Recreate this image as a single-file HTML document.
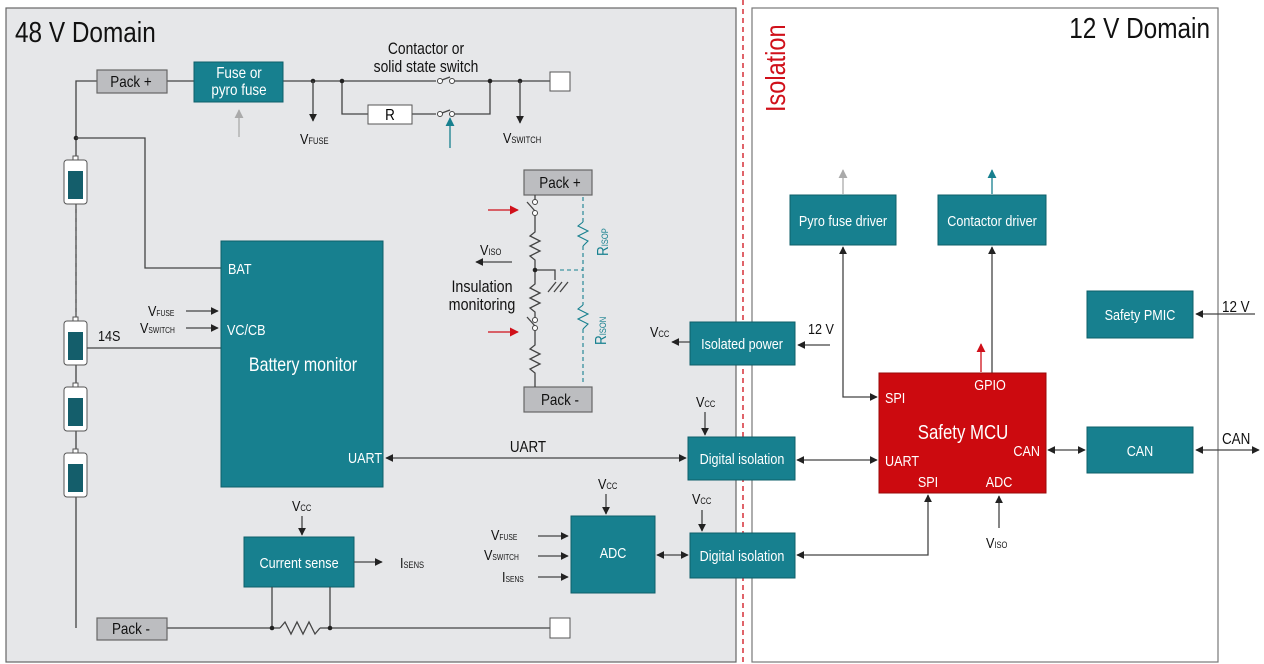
<!DOCTYPE html>
<html><head><meta charset="utf-8"><style>
body{margin:0;background:#fff}
svg{display:block;font-family:"Liberation Sans",sans-serif;font-size:15px}
text{transform-box:fill-box;transform:scaleX(.84);transform-origin:0 50%}
.t{fill:#fff;text-anchor:middle}
.k{fill:#111}
.t,.m{transform-origin:50% 50%}
.s{transform-origin:0 50%;text-anchor:start}
.r{transform-origin:100% 50%}
.w{stroke:#444;stroke-width:1.3;fill:none}
.tb{fill:#17808f;stroke:#0e5f6a;stroke-width:1}
.gb{fill:#bcbdc0;stroke:#666;stroke-width:1.2}
</style></head><body>
<svg width="1264" height="664" viewBox="0 0 1264 664">
<defs>
<marker id="a" viewBox="0 0 10 10" refX="9" refY="5" markerWidth="8" markerHeight="8" orient="auto-start-reverse" markerUnits="userSpaceOnUse"><path d="M0,0L10,5L0,10z" fill="#222"/></marker>
<marker id="ag" viewBox="0 0 10 10" refX="9" refY="5" markerWidth="9" markerHeight="9" orient="auto" markerUnits="userSpaceOnUse"><path d="M0,0L10,5L0,10z" fill="#aaa"/></marker>
<marker id="at" viewBox="0 0 10 10" refX="9" refY="5" markerWidth="9" markerHeight="9" orient="auto" markerUnits="userSpaceOnUse"><path d="M0,0L10,5L0,10z" fill="#17808f"/></marker>
<marker id="ar" viewBox="0 0 10 10" refX="9" refY="5" markerWidth="9" markerHeight="9" orient="auto" markerUnits="userSpaceOnUse"><path d="M0,0L10,5L0,10z" fill="#d0101a"/></marker>
</defs>
<rect x="6" y="8" width="730" height="654" fill="#e6e7e9" stroke="#666" stroke-width="1.2"/>
<rect x="752" y="8" width="466" height="654" fill="#fff" stroke="#777" stroke-width="1.2"/>
<line x1="743" y1="0" x2="743" y2="664" stroke="#d0101a" stroke-width="1.3" stroke-dasharray="5,4"/>
<g transform="translate(785,112) rotate(-90)"><text x="0" y="0" fill="#d0101a" font-size="28">Isolation</text></g>
<text x="15" y="42" font-size="29" fill="#111">48 V Domain</text>
<text x="1210" y="38" font-size="29" fill="#111" text-anchor="end" class="r">12 V Domain</text>

<polyline class="w" points="76,628 76,81 97,81"/>
<line class="w" x1="167" y1="81" x2="194" y2="81"/>
<line class="w" x1="283" y1="81" x2="436" y2="81"/>
<line class="w" x1="455" y1="81" x2="550" y2="81"/>
<circle cx="440" cy="81" r="2.5" fill="#fff" stroke="#444"/><circle cx="452" cy="81" r="2.5" fill="#fff" stroke="#444"/><line class="w" x1="442" y1="80" x2="450" y2="77"/>
<polyline class="w" points="342,81 342,114 368,114"/>
<line class="w" x1="412" y1="114" x2="436" y2="114"/>
<polyline class="w" points="455,114 490,114 490,81"/>
<circle cx="440" cy="114" r="2.5" fill="#fff" stroke="#444"/><circle cx="452" cy="114" r="2.5" fill="#fff" stroke="#444"/><line class="w" x1="442" y1="113" x2="450" y2="110"/>
<rect x="368" y="105" width="44" height="19" fill="#fff" stroke="#555"/><text x="390" y="120" font-size="16" text-anchor="middle" class="m">R</text>
<g fill="#222"><circle cx="313" cy="81" r="2.3"/><circle cx="342" cy="81" r="2.3"/><circle cx="490" cy="81" r="2.3"/><circle cx="520" cy="81" r="2.3"/><circle cx="76" cy="138" r="2.3"/></g>
<line class="w" x1="313" y1="81" x2="313" y2="121" marker-end="url(#a)"/>
<line class="w" x1="520" y1="81" x2="520" y2="123" marker-end="url(#a)"/>
<text x="300" y="144" class="k" font-size="15">V<tspan font-size="9">FUSE</tspan></text>
<text x="503" y="143" class="k" font-size="15">V<tspan font-size="9">SWITCH</tspan></text>
<line x1="239" y1="137" x2="239" y2="110" stroke="#aaa" stroke-width="1.3" marker-end="url(#ag)"/>
<line x1="450" y1="148" x2="450" y2="118" stroke="#17808f" stroke-width="1.3" marker-end="url(#at)"/>
<text x="426" y="54" class="k m" font-size="16.5" text-anchor="middle">Contactor or</text>
<text x="426" y="72" class="k m" font-size="16.5" text-anchor="middle">solid state switch</text>
<rect x="97" y="70" width="70" height="23" class="gb"/><text x="131" y="87" class="k m" font-size="16" text-anchor="middle">Pack +</text>
<rect x="194" y="62" width="89" height="40" class="tb"/><text x="239" y="78" class="t" font-size="16">Fuse or</text><text x="239" y="95" class="t" font-size="16">pyro fuse</text>
<rect x="550" y="72" width="20" height="19" fill="#fff" stroke="#555"/>

<line x1="76" y1="204" x2="76" y2="318" stroke="#555" stroke-dasharray="5,4"/>
<g>
<rect x="64" y="160" width="23" height="44" rx="3" fill="#fff" stroke="#555"/><rect x="73" y="156" width="5" height="4" fill="#fff" stroke="#555"/><rect x="68" y="171" width="15" height="28" fill="#145e6b"/>
<rect x="64" y="321" width="23" height="44" rx="3" fill="#fff" stroke="#555"/><rect x="73" y="317" width="5" height="4" fill="#fff" stroke="#555"/><rect x="68" y="332" width="15" height="28" fill="#145e6b"/>
<rect x="64" y="387" width="23" height="44" rx="3" fill="#fff" stroke="#555"/><rect x="73" y="383" width="5" height="4" fill="#fff" stroke="#555"/><rect x="68" y="398" width="15" height="28" fill="#145e6b"/>
<rect x="64" y="453" width="23" height="44" rx="3" fill="#fff" stroke="#555"/><rect x="73" y="449" width="5" height="4" fill="#fff" stroke="#555"/><rect x="68" y="464" width="15" height="28" fill="#145e6b"/>
</g>
<polyline class="w" points="76,138 145,138 145,268 221,268"/>
<line class="w" x1="87" y1="348" x2="221" y2="348"/>
<text x="98" y="341" class="k" font-size="15">14S</text>
<line class="w" x1="186" y1="311" x2="218" y2="311" marker-end="url(#a)"/>
<line class="w" x1="186" y1="328" x2="218" y2="328" marker-end="url(#a)"/>
<text x="148" y="316" class="k" font-size="15">V<tspan font-size="8">FUSE</tspan></text>
<text x="140" y="333" class="k" font-size="15">V<tspan font-size="8">SWITCH</tspan></text>
<rect x="221" y="241" width="162" height="246" class="tb"/>
<text x="228" y="274" class="t s">BAT</text>
<text x="227" y="335" class="t s">VC/CB</text>
<text x="303" y="371" class="t" font-size="19">Battery monitor</text>
<text x="348" y="463" class="t s">UART</text>
<line class="w" x1="386" y1="458" x2="686" y2="458" marker-start="url(#a)" marker-end="url(#a)"/>
<text x="528" y="452" class="k m" font-size="16" text-anchor="middle">UART</text>

<rect x="244" y="537" width="110" height="50" class="tb"/><text x="299" y="568" class="t">Current sense</text>
<line class="w" x1="302" y1="516" x2="302" y2="535" marker-end="url(#a)"/>
<text x="292" y="511" class="k" font-size="15">V<tspan font-size="9">CC</tspan></text>
<line class="w" x1="354" y1="562" x2="382" y2="562" marker-end="url(#a)"/>
<text x="400" y="568" class="k" font-size="15">I<tspan font-size="9">SENS</tspan></text>
<line class="w" x1="167" y1="628" x2="280" y2="628"/>
<polyline class="w" points="280,628 285,622 291,634 297,622 303,634 309,622 315,634 320,628"/>
<line class="w" x1="320" y1="628" x2="550" y2="628"/>
<polyline class="w" points="272,628 272,587"/><polyline class="w" points="330,628 330,587"/>
<circle cx="272" cy="628" r="2.3" fill="#222"/><circle cx="330" cy="628" r="2.3" fill="#222"/>
<rect x="97" y="618" width="70" height="22" class="gb"/><text x="131" y="634" class="k m" font-size="16" text-anchor="middle">Pack -</text>
<rect x="550" y="618" width="20" height="20" fill="#fff" stroke="#555"/>

<rect x="524" y="170" width="68" height="25" class="gb"/><text x="560" y="188" class="k m" font-size="16" text-anchor="middle">Pack +</text>
<rect x="524" y="387" width="68" height="25" class="gb"/><text x="560" y="405" class="k m" font-size="16" text-anchor="middle">Pack -</text>
<g class="w">
<line x1="535" y1="195" x2="535" y2="200"/>
<line x1="535" y1="211" x2="527" y2="202"/>
<polyline points="535,215 535,232 530,236 540,241 530,246 540,251 530,256 535,260 535,284 530,288 540,293 530,298 540,303 530,308 535,312 535,318"/>
<line x1="535" y1="326" x2="527" y2="317"/>
<polyline points="535,330 535,345 530,349 540,354 530,359 540,364 530,369 535,373 535,387"/>
<polyline points="535,270 555,270 555,280"/>
<line x1="548" y1="292" x2="556" y2="282"/><line x1="554" y1="292" x2="562" y2="282"/><line x1="560" y1="292" x2="568" y2="282"/>
</g>
<g fill="#fff" stroke="#444"><circle cx="535" cy="202" r="2.5"/><circle cx="535" cy="213" r="2.5"/><circle cx="535" cy="320" r="2.5"/><circle cx="535" cy="328" r="2.5"/></g>
<circle cx="535" cy="270" r="2.3" fill="#222"/>
<line x1="488" y1="210" x2="518" y2="210" stroke="#d0101a" stroke-width="1.3" marker-end="url(#ar)"/>
<line x1="488" y1="332" x2="518" y2="332" stroke="#d0101a" stroke-width="1.3" marker-end="url(#ar)"/>
<g stroke="#17808f" stroke-width="1.1" fill="none">
<line x1="583" y1="197" x2="583" y2="222" stroke-dasharray="4,3"/>
<polyline points="583,222 578,226 588,231 578,236 588,241 583,246"/>
<line x1="583" y1="246" x2="583" y2="305" stroke-dasharray="4,3"/>
<line x1="560" y1="270" x2="583" y2="270" stroke-dasharray="4,3"/>
<polyline points="583,305 578,309 588,314 578,319 588,324 583,329"/>
<line x1="583" y1="329" x2="583" y2="385" stroke-dasharray="4,3"/>
</g>
<g transform="translate(608,256) rotate(-90)"><text x="0" y="0" fill="#17808f" font-size="16">R<tspan font-size="9">ISOP</tspan></text></g>
<g transform="translate(606,345) rotate(-90)"><text x="0" y="0" fill="#17808f" font-size="16">R<tspan font-size="9">ISON</tspan></text></g>
<line class="w" x1="512" y1="262" x2="476" y2="262" marker-end="url(#a)"/>
<text x="480" y="255" class="k" font-size="15">V<tspan font-size="9">ISO</tspan></text>
<text x="482" y="292" class="k m" font-size="17" text-anchor="middle">Insulation</text>
<text x="482" y="310" class="k m" font-size="17" text-anchor="middle">monitoring</text>

<rect x="571" y="516" width="84" height="77" class="tb"/><text x="613" y="558" class="t">ADC</text>
<line class="w" x1="606" y1="494" x2="606" y2="514" marker-end="url(#a)"/>
<text x="598" y="489" class="k" font-size="15">V<tspan font-size="9">CC</tspan></text>
<line class="w" x1="538" y1="536" x2="568" y2="536" marker-end="url(#a)"/>
<line class="w" x1="538" y1="556" x2="568" y2="556" marker-end="url(#a)"/>
<line class="w" x1="538" y1="577" x2="568" y2="577" marker-end="url(#a)"/>
<text x="491" y="540" class="k" font-size="15">V<tspan font-size="8">FUSE</tspan></text>
<text x="484" y="560" class="k" font-size="15">V<tspan font-size="8">SWITCH</tspan></text>
<text x="502" y="582" class="k" font-size="15">I<tspan font-size="8">SENS</tspan></text>
<line class="w" x1="657" y1="555" x2="688" y2="555" marker-start="url(#a)" marker-end="url(#a)"/>

<rect x="690" y="322" width="105" height="43" class="tb"/><text x="742" y="349" class="t">Isolated power</text>
<line class="w" x1="690" y1="342" x2="672" y2="342" marker-end="url(#a)"/>
<text x="650" y="337" class="k" font-size="15">V<tspan font-size="9">CC</tspan></text>
<line class="w" x1="830" y1="345" x2="798" y2="345" marker-end="url(#a)"/>
<text x="808" y="334" class="k" font-size="15">12 V</text>
<rect x="688" y="437" width="107" height="43" class="tb"/><text x="742" y="464" class="t">Digital isolation</text>
<line class="w" x1="705" y1="412" x2="705" y2="435" marker-end="url(#a)"/>
<text x="696" y="407" class="k" font-size="15">V<tspan font-size="9">CC</tspan></text>
<rect x="690" y="533" width="105" height="45" class="tb"/><text x="742" y="561" class="t">Digital isolation</text>
<line class="w" x1="702" y1="510" x2="702" y2="531" marker-end="url(#a)"/>
<text x="692" y="504" class="k" font-size="15">V<tspan font-size="9">CC</tspan></text>
<line class="w" x1="797" y1="460" x2="877" y2="460" marker-start="url(#a)" marker-end="url(#a)"/>
<polyline class="w" points="797,555 928,555 928,495" marker-start="url(#a)" marker-end="url(#a)"/>

<rect x="790" y="195" width="106" height="50" class="tb"/><text x="843" y="226" class="t">Pyro fuse driver</text>
<rect x="938" y="195" width="108" height="50" class="tb"/><text x="992" y="226" class="t">Contactor driver</text>
<line x1="843" y1="194" x2="843" y2="170" stroke="#aaa" stroke-width="1.3" marker-end="url(#ag)"/>
<line x1="992" y1="194" x2="992" y2="170" stroke="#17808f" stroke-width="1.3" marker-end="url(#at)"/>
<polyline class="w" points="877,397 843,397 843,247" marker-start="url(#a)" marker-end="url(#a)"/>
<line class="w" x1="992" y1="373" x2="992" y2="247" marker-end="url(#a)"/>
<line x1="981" y1="372" x2="981" y2="344" stroke="#d0101a" stroke-width="1.3" marker-end="url(#ar)"/>
<rect x="879" y="373" width="167" height="120" fill="#cc0a0f" stroke="#9a0a0a"/>
<text x="990" y="390" class="t">GPIO</text>
<text x="885" y="403" class="t s">SPI</text>
<text x="963" y="439" class="t" font-size="20">Safety MCU</text>
<text x="1040" y="456" class="t r" style="text-anchor:end">CAN</text>
<text x="885" y="466" class="t s">UART</text>
<text x="928" y="487" class="t">SPI</text>
<text x="999" y="487" class="t">ADC</text>
<line class="w" x1="999" y1="528" x2="999" y2="496" marker-end="url(#a)"/>
<text x="986" y="548" class="k" font-size="15">V<tspan font-size="9">ISO</tspan></text>
<rect x="1087" y="291" width="106" height="47" class="tb"/><text x="1140" y="320" class="t">Safety PMIC</text>
<line class="w" x1="1255" y1="314" x2="1196" y2="314" marker-end="url(#a)"/>
<text x="1222" y="312" class="k" font-size="16">12 V</text>
<rect x="1087" y="427" width="106" height="46" class="tb"/><text x="1140" y="456" class="t">CAN</text>
<line class="w" x1="1048" y1="450" x2="1085" y2="450" marker-start="url(#a)" marker-end="url(#a)"/>
<line class="w" x1="1196" y1="450" x2="1259" y2="450" marker-start="url(#a)" marker-end="url(#a)"/>
<text x="1222" y="444" class="k" font-size="16">CAN</text>
</svg>
</body></html>
